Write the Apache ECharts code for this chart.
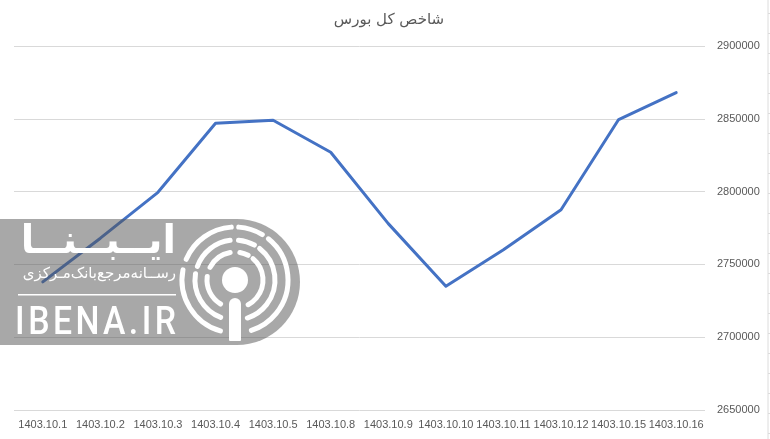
<!DOCTYPE html>
<html><head><meta charset="utf-8">
<style>html,body{margin:0;padding:0;background:#fff}#c{width:770px;height:439px}</style>
<script src="https://cdn.jsdelivr.net/npm/echarts@6/dist/echarts.min.js"></script>
</head><body><div id="c"></div>
<script>
const categories = ['1403.10.1','1403.10.2','1403.10.3','1403.10.4','1403.10.5','1403.10.8','1403.10.9','1403.10.10','1403.10.11','1403.10.12','1403.10.15','1403.10.16'];
const indexValues = [2738000,2768000,2799500,2847000,2849000,2827000,2778000,2735000,2760000,2787500,2849500,2868000];
const chartTitle = 'شاخص کل بورس';

const FONT = '"Liberation Sans", Arial, sans-serif';
const AR = '"DejaVu Sans", "Liberation Sans", sans-serif';
const deg = d => d * Math.PI / 180;
const cx = 235, cy = 280;
const rings = [
  [53, [[203,266],[274,301],[309,432],[106,191]]],
  [40, [[200,263],[275,299],[308,432],[111,189]]],
  [28, [[207,260],[280,298],[310,422],[121,187]]]
];
const logo = [];
logo.push({type:'rect', z:100, shape:{x:-70,y:219,width:370,height:126,r:63}, style:{fill:'rgba(81,81,81,0.5)'}});
rings.forEach(([r, segs]) => segs.forEach(([a,b]) => logo.push({
  type:'arc', z:101, shape:{cx,cy,r,startAngle:deg(a),endAngle:deg(b),clockwise:true},
  style:{stroke:'#fff',lineWidth:5,lineCap:'round',fill:null}
})));
logo.push({type:'circle', z:101, shape:{cx,cy,r:13}, style:{fill:'#fff'}});
logo.push({type:'rect', z:101, shape:{x:229,y:298,width:12,height:43,r:[6,6,1,1]}, style:{fill:'#fff'}});
logo.push({type:'rect', z:101, shape:{x:18,y:294,width:158,height:1.5}, style:{fill:'#fff'}});
logo.push({type:'text', z:101, originX:176, scaleX:0.98, style:{x:176,y:243,text:'ایــبــنــا',fill:'#fff',font:'bold 40px '+AR,align:'right',verticalAlign:'middle'}});
logo.push({type:'text', z:101, style:{x:176,y:274,text:'رســانه‌مرجع‌بانک‌مـرکزی',fill:'#fff',font:'15px '+AR,align:'right',verticalAlign:'middle'}});
logo.push({type:'text', z:101, originX:176, scaleX:0.89, style:{x:176,y:324,text:'I\u200aB\u200aE\u200aN\u200aA\u200a.\u200aI\u200aR',fill:'#fff',font:'500 38px Roboto, sans-serif',align:'right',verticalAlign:'middle'}});

const edge = [{type:'line', z:1, shape:{x1:768,y1:0,x2:768,y2:439}, style:{stroke:'#dcdcdc',lineWidth:1}}];
for (let i = 0; i < 22; i++) {
  const y = 13.5 + i * 20;
  edge.push({type:'line', z:1, shape:{x1:768,y1:y,x2:770,y2:y}, style:{stroke:'#dcdcdc',lineWidth:1}});
}

const chart = echarts.init(document.getElementById('c'), null, {renderer:'canvas'});
chart.setOption({
  animation:false,
  backgroundColor:'#fff',
  title:{text:chartTitle,left:384,top:8,textAlign:'center',textStyle:{fontFamily:AR,fontSize:15,fontWeight:'normal',color:'#595959'}},
  grid:{left:14,right:65,top:46,bottom:29,containLabel:false},
  xAxis:{type:'category',data:categories,boundaryGap:true,axisLine:{show:false},axisTick:{show:false},splitLine:{show:false},
    axisLabel:{color:'#595959',fontFamily:FONT,fontSize:11,margin:9,interval:0}},
  yAxis:{type:'value',position:'right',min:2650000,max:2900000,interval:50000,axisLine:{show:false},axisTick:{show:false},
    splitLine:{show:true,lineStyle:{color:'#d9d9d9',width:1}},
    axisLabel:{color:'#595959',fontFamily:FONT,fontSize:11,margin:12,formatter:v=>String(v)}},
  series:[{type:'line',data:indexValues,symbol:'none',smooth:false,lineStyle:{color:'#4472c4',width:3,cap:'round',join:'round'}}],
  graphic:{elements:logo.concat(edge)}
});
</script></body></html>
